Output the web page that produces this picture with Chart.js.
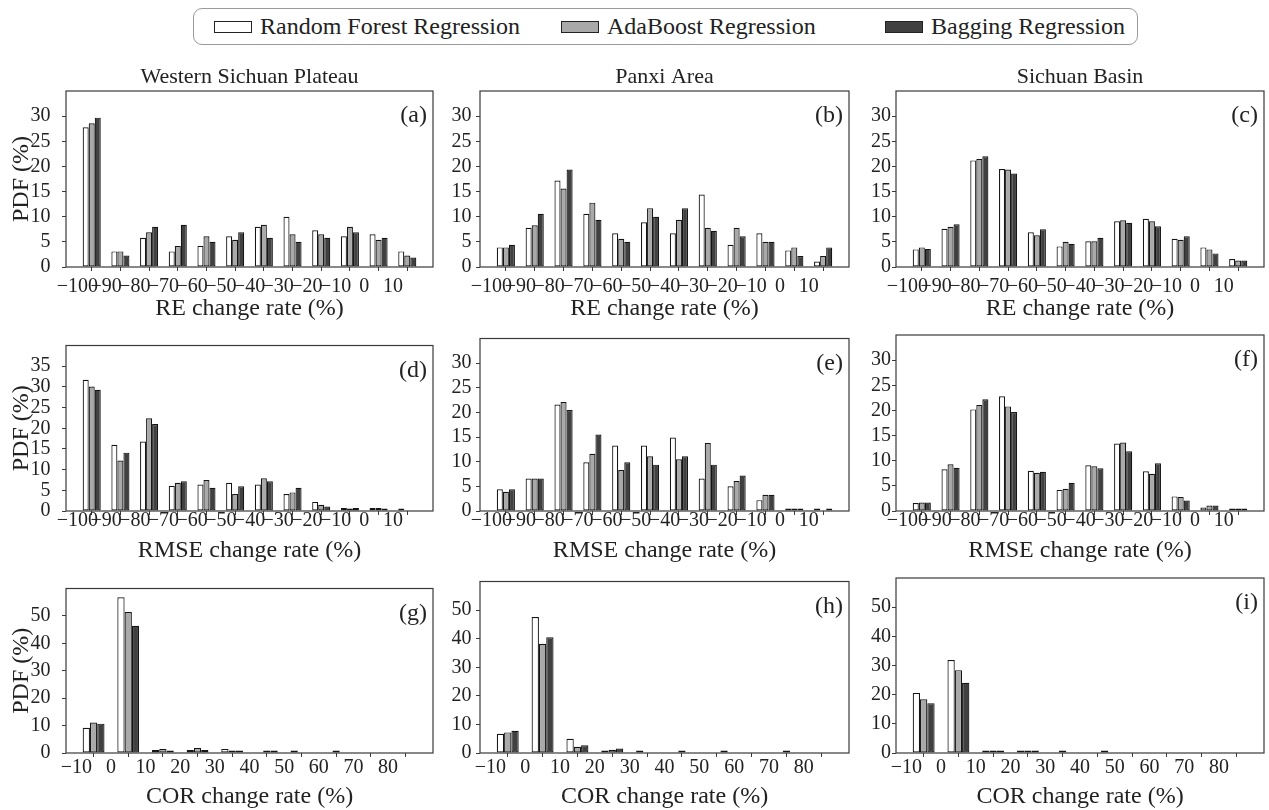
<!DOCTYPE html>
<html>
<head>
<meta charset="utf-8">
<title>PDF of change rates by region and model</title>
<script src="https://cdn.jsdelivr.net/npm/chart.js@4.4.1/dist/chart.umd.min.js"></script>
<style>
  html, body { margin: 0; padding: 0; background: #fff; }
  body { position: relative; width: 1269px; height: 810px; overflow: hidden; font-family: "Liberation Serif", "Times New Roman", serif; color: #222; }
  canvas { position: absolute; }
  #legend { position: absolute; left: 193px; top: 8px; width: 945px; height: 37px; border: 1px solid #9a9a9a; border-radius: 9px; box-sizing: border-box; }
  .item { position: absolute; top: 0; height: 35px; display: flex; align-items: center; font-size: 24px; white-space: nowrap; }
  .sw { width: 38px; height: 12px; border: 1.5px solid #222; margin-right: 8px; box-sizing: border-box; }
</style>
</head>
<body>
<div id="legend"></div>
<script>
// ---- bins and ticks ----
const reBins  = [-95, -85, -75, -65, -55, -45, -35, -25, -15, -5, 5, 15];
const corBins = [-5, 5, 15, 25, 35, 45, 55, 65, 75, 85];
const reTicks  = [-100, -90, -80, -70, -60, -50, -40, -30, -20, -10, 0, 10];
const corTicks = [-10, 0, 10, 20, 30, 40, 50, 60, 70, 80];
const pdfTicks30 = [0, 5, 10, 15, 20, 25, 30];
const pdfTicks35 = [0, 5, 10, 15, 20, 25, 30, 35];
const pdfTicks50 = [0, 10, 20, 30, 40, 50];

const modelNames = ['Random Forest Regression', 'AdaBoost Regression', 'Bagging Regression'];
const regionNames = ['Western Sichuan Plateau', 'Panxi Area', 'Sichuan Basin'];

// ---- (a) RE, Western Sichuan Plateau ----
const reWsp_rf  = [27.8, 3.1, 5.8, 3.1, 4.2, 6.1, 8.0, 10.0, 7.3, 6.1, 6.5, 3.1];
const reWsp_ada = [28.6, 3.1, 6.9, 4.2, 6.1, 5.4, 8.4, 6.5, 6.5, 8.0, 5.4, 2.3];
const reWsp_bag = [29.7, 2.3, 8.0, 8.4, 5.0, 6.9, 5.8, 5.0, 5.8, 6.9, 5.8, 1.9];
// ---- (b) RE, Panxi Area ----
const rePx_rf  = [3.9, 7.8, 17.2, 10.6, 6.7, 8.9, 6.7, 14.4, 4.4, 6.7, 3.3, 1.1];
const rePx_ada = [3.9, 8.3, 15.6, 12.8, 5.6, 11.7, 9.4, 7.8, 7.8, 5.0, 3.9, 2.2];
const rePx_bag = [4.4, 10.6, 19.4, 9.4, 5.0, 10.0, 11.7, 7.2, 6.1, 5.0, 2.2, 3.9];
// ---- (c) RE, Sichuan Basin ----
const reSb_rf  = [3.5, 7.6, 21.2, 19.5, 6.9, 4.1, 5.1, 9.1, 9.6, 5.6, 3.9, 1.6];
const reSb_ada = [3.9, 8.0, 21.5, 19.4, 6.3, 5.0, 5.1, 9.3, 9.1, 5.4, 3.5, 1.3];
const reSb_bag = [3.6, 8.5, 22.0, 18.6, 7.5, 4.6, 5.8, 8.8, 8.1, 6.1, 2.7, 1.3];
// ---- (d) RMSE, Western Sichuan Plateau ----
const rmseWsp_rf  = [31.7, 16.0, 16.8, 6.1, 6.4, 6.8, 6.4, 4.1, 2.2, 0.7, 0.7, 0.3];
const rmseWsp_ada = [30.1, 12.2, 22.4, 6.8, 7.5, 4.1, 7.9, 4.5, 1.5, 0.4, 0.7, 0];
const rmseWsp_bag = [29.3, 14.1, 21.0, 7.2, 5.6, 6.0, 7.2, 5.6, 1.1, 0.7, 0.3, 0];
// ---- (e) RMSE, Panxi Area ----
const rmsePx_rf  = [4.4, 6.6, 21.6, 9.9, 13.3, 13.3, 14.9, 6.6, 5.0, 2.2, 0.5, 0.5];
const rmsePx_ada = [3.9, 6.6, 22.1, 11.6, 8.3, 11.1, 10.5, 13.8, 6.1, 3.3, 0.5, 0];
const rmsePx_bag = [4.4, 6.6, 20.5, 15.5, 9.9, 9.4, 11.1, 9.4, 7.2, 3.3, 0.5, 0.5];
// ---- (f) RMSE, Sichuan Basin ----
const rmseSb_rf  = [1.6, 8.3, 20.2, 22.8, 8.0, 4.2, 9.1, 13.4, 7.9, 2.9, 0.7, 0.1];
const rmseSb_ada = [1.7, 9.3, 21.1, 20.8, 7.6, 4.4, 8.9, 13.6, 7.4, 2.8, 1.1, 0.2];
const rmseSb_bag = [1.7, 8.6, 22.2, 19.7, 7.8, 5.6, 8.5, 11.9, 9.5, 2.1, 1.1, 0.15];
// ---- (g) COR, Western Sichuan Plateau ----
const corWsp_rf  = [9.2, 56.8, 1.1, 1.1, 1.5, 0, 0.3, 0, 0, 0];
const corWsp_ada = [11.1, 51.4, 1.5, 1.8, 0.8, 0.3, 0, 0.3, 0, 0];
const corWsp_bag = [10.7, 46.4, 0.8, 1.1, 0.8, 0.3, 0, 0, 0, 0];
// ---- (h) COR, Panxi Area ----
const corPx_rf  = [6.7, 47.6, 5.0, 0.6, 0.5, 0, 0, 0, 0, 0];
const corPx_ada = [7.2, 38.2, 2.2, 1.1, 0, 0.5, 0, 0, 0.5, 0];
const corPx_bag = [7.8, 40.5, 2.7, 1.6, 0, 0, 0.5, 0, 0, 0];
// ---- (i) COR, Sichuan Basin ----
const corSb_rf  = [20.6, 31.9, 0.3, 0.2, 0, 0, 0, 0, 0, 0];
const corSb_ada = [18.4, 28.4, 0.2, 0.2, 0.2, 0, 0, 0, 0, 0];
const corSb_bag = [17.1, 24.1, 0.4, 0.2, 0, 0.1, 0, 0, 0, 0];

// ---- styling / layout ----
const FONT = '"Liberation Serif", "Times New Roman", serif';
const INK = '#222';
const fills = ['#ffffff', '#a9a9a9', '#404040'];
const GROUP_FRACTION = 0.63;           // share of each 10% bin covered by the 3 bars

const colLeft  = [66, 480, 896];
const colRight = [433, 849, 1264];
const rowTop    = [91, 334, 577];
const rowBottom = [267, 511, 753];
const yAxisW = [66, 60, 60];
const yTickPad = [11.5, 4.5, 1];
const xTickPad = [4, -6, -1];
const xTitlePad = [2, 4, 0];
const X_AXIS_H = 56;
const HEAD_H = 36;                     // space above the first row for the region names
const RIGHT_PAD = 4;

Chart.defaults.font.family = FONT;
Chart.defaults.color = INK;

const panels = [
  { tag: '(a)', row: 0, col: 0, bins: reBins,  xTicks: reTicks,  yTicks: pdfTicks30, yMax: 35, xTitle: 'RE change rate (%)',   series: [reWsp_rf, reWsp_ada, reWsp_bag] },
  { tag: '(b)', row: 0, col: 1, bins: reBins,  xTicks: reTicks,  yTicks: pdfTicks30, yMax: 35, xTitle: 'RE change rate (%)',   series: [rePx_rf, rePx_ada, rePx_bag] },
  { tag: '(c)', row: 0, col: 2, bins: reBins,  xTicks: reTicks,  yTicks: pdfTicks30, yMax: 35, xTitle: 'RE change rate (%)',   series: [reSb_rf, reSb_ada, reSb_bag] },
  { tag: '(d)', row: 1, col: 0, bins: reBins,  xTicks: reTicks,  yTicks: pdfTicks35, yMax: 40, xTitle: 'RMSE change rate (%)', series: [rmseWsp_rf, rmseWsp_ada, rmseWsp_bag] },
  { tag: '(e)', row: 1, col: 1, bins: reBins,  xTicks: reTicks,  yTicks: pdfTicks30, yMax: 35, xTitle: 'RMSE change rate (%)', series: [rmsePx_rf, rmsePx_ada, rmsePx_bag] },
  { tag: '(f)', row: 1, col: 2, bins: reBins,  xTicks: reTicks,  yTicks: pdfTicks30, yMax: 35, xTitle: 'RMSE change rate (%)', series: [rmseSb_rf, rmseSb_ada, rmseSb_bag] },
  { tag: '(g)', row: 2, col: 0, bins: corBins, xTicks: corTicks, yTicks: pdfTicks50, yMax: 60, xTitle: 'COR change rate (%)',  series: [corWsp_rf, corWsp_ada, corWsp_bag] },
  { tag: '(h)', row: 2, col: 1, bins: corBins, xTicks: corTicks, yTicks: pdfTicks50, yMax: 60, xTitle: 'COR change rate (%)',  series: [corPx_rf, corPx_ada, corPx_bag] },
  { tag: '(i)', row: 2, col: 2, bins: corBins, xTicks: corTicks, yTicks: pdfTicks50, yMax: 60, xTitle: 'COR change rate (%)',  series: [corSb_rf, corSb_ada, corSb_bag] }
];

// minus sign as in typeset axes
const fmtTick = v => (v < 0 ? '\u2212' + Math.abs(v) : String(v));

// frame around the plotting area and the panel tag in its upper-right corner
const framePlugin = {
  id: 'frameAndTag',
  afterDatasetsDraw(chart, args, opts) {
    const { ctx, chartArea: a } = chart;
    ctx.save();
    ctx.strokeStyle = '#3a3a3a';
    ctx.lineWidth = 1.2;
    ctx.strokeRect(a.left, a.top, a.right - a.left, a.bottom - a.top);
    ctx.fillStyle = INK;
    ctx.font = '24px ' + FONT;
    ctx.textAlign = 'right';
    ctx.textBaseline = 'middle';
    ctx.fillText(opts.tag, a.right - 6, a.top + 25);
    ctx.restore();
  }
};

function buildPanel(p) {
  const L = colLeft[p.col], R = colRight[p.col];
  const T = rowTop[p.row], B = rowBottom[p.row];
  const yW = yAxisW[p.col];
  const topSpace = p.row === 0 ? HEAD_H : 12;

  const canvas = document.createElement('canvas');
  canvas.width = yW + (R - L) + RIGHT_PAD;
  canvas.height = topSpace + (B - T) + X_AXIS_H;
  canvas.style.left = (L - yW) + 'px';
  canvas.style.top = (T - topSpace) + 'px';
  document.body.appendChild(canvas);

  const halfGroup = 10 * GROUP_FRACTION / 2;
  const lo = p.bins[0] - halfGroup;
  const hi = p.bins[p.bins.length - 1] + halfGroup;
  const margin = 0.05 * (hi - lo);

  // empty bins are left out so that only non-zero bins get a bar
  const datasets = p.series.map((vals, i) => ({
    label: modelNames[i],
    xAxisID: 'x',
    yAxisID: 'y',
    data: p.bins.map((x, j) => ({ x: x, y: vals[j] === 0 ? null : vals[j] })),
    backgroundColor: fills[i],
    borderColor: '#151515',
    borderWidth: 1.2,
    borderSkipped: false,
    minBarLength: 2.5,
    categoryPercentage: GROUP_FRACTION,
    barPercentage: 1
  }));

  const scales = {
    x: {
      type: 'linear',
      position: 'bottom',
      min: lo - margin,
      max: hi + margin,
      offset: false,
      afterBuildTicks: s => { s.ticks = p.xTicks.map(v => ({ value: v })); },
      afterFit: s => { s.height = X_AXIS_H; },
      ticks: {
        autoSkip: false, maxRotation: 0, minRotation: 0,
        padding: xTickPad[p.row], color: INK,
        font: { family: FONT, size: 20 },
        callback: v => fmtTick(v)
      },
      grid: { display: true, drawOnChartArea: false, drawTicks: true, tickLength: 4, color: '#3a3a3a', lineWidth: 1 },
      border: { display: false },
      title: {
        display: true, text: p.xTitle, color: INK,
        font: { family: FONT, size: 24, lineHeight: 1 },
        padding: { top: 0, bottom: xTitlePad[p.row] }
      }
    },
    y: {
      type: 'linear',
      position: 'left',
      min: 0,
      max: p.yMax,
      afterBuildTicks: s => { s.ticks = p.yTicks.map(v => ({ value: v })); },
      afterFit: s => { s.width = yW; },
      ticks: { autoSkip: false, padding: yTickPad[p.col], color: INK, font: { family: FONT, size: 20 } },
      grid: { display: true, drawOnChartArea: false, drawTicks: true, tickLength: 4, color: '#3a3a3a', lineWidth: 1 },
      border: { display: false },
      title: {
        display: p.col === 0, text: 'PDF (%)', color: INK,
        font: { family: FONT, size: 24, lineHeight: 1 },
        padding: { top: 9.7, bottom: 0 }
      }
    }
  };

  // region name above each column, centred on the plotting area
  if (p.row === 0) {
    scales.head = {
      type: 'linear',
      axis: 'x',
      position: 'top',
      min: lo - margin,
      max: hi + margin,
      afterFit: s => { s.height = HEAD_H; },
      ticks: { display: false },
      grid: { display: false },
      border: { display: false },
      title: {
        display: true, text: regionNames[p.col], color: INK,
        font: { family: FONT, size: 22, lineHeight: 1 },
        padding: { top: 11, bottom: 0 }
      }
    };
  }

  return new Chart(canvas, {
    type: 'bar',
    data: { datasets },
    plugins: [framePlugin],
    options: {
      responsive: false,
      animation: false,
      events: [],
      layout: { padding: { top: p.row === 0 ? 0 : topSpace, right: RIGHT_PAD, left: 0, bottom: 0 } },
      plugins: {
        legend: { display: false },
        tooltip: { enabled: false },
        frameAndTag: { tag: p.tag }
      },
      scales
    }
  });
}

panels.forEach(buildPanel);

// shared legend for the three models
const legendBox = document.getElementById('legend');
const legendLeft = [20, 367, 691];
modelNames.forEach((name, i) => {
  const item = document.createElement('div');
  item.className = 'item';
  item.style.left = legendLeft[i] + 'px';
  const sw = document.createElement('span');
  sw.className = 'sw';
  sw.style.background = fills[i];
  const txt = document.createElement('span');
  txt.textContent = name;
  item.appendChild(sw);
  item.appendChild(txt);
  legendBox.appendChild(item);
});
</script>
</body>
</html>
